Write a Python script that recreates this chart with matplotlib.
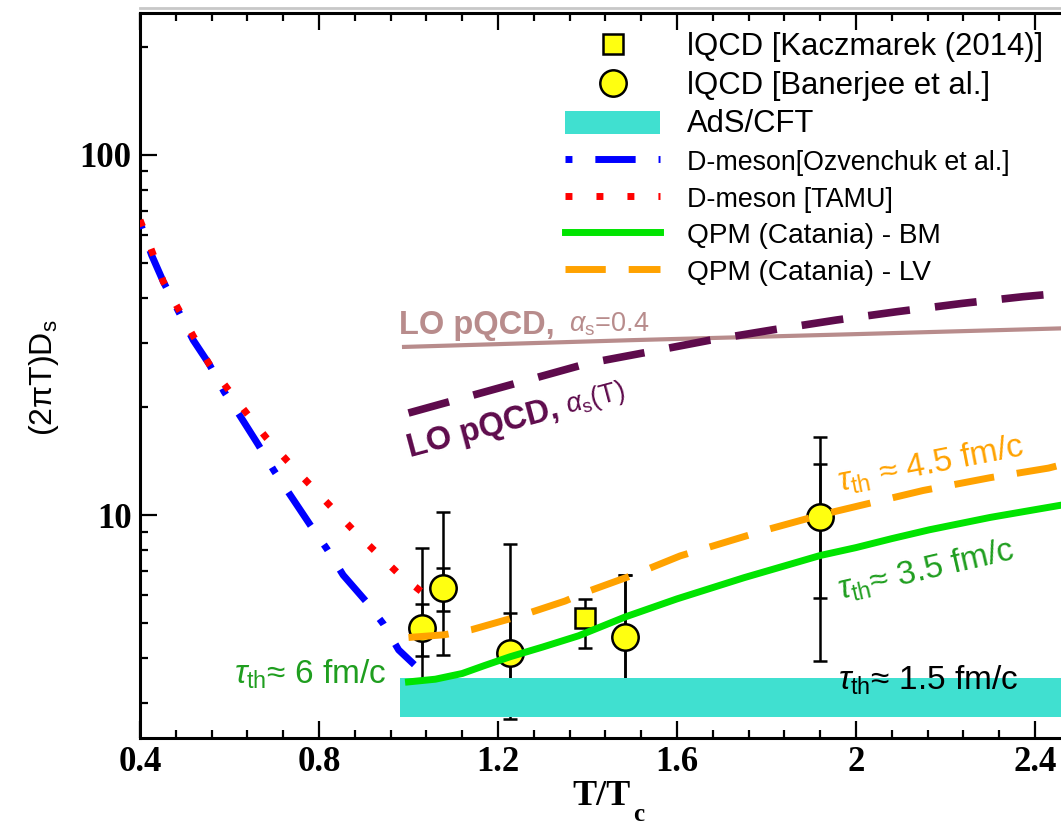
import matplotlib
matplotlib.use("Agg")
import matplotlib.pyplot as plt
import matplotlib.transforms as mtransforms
from matplotlib.font_manager import FontProperties
from matplotlib.ticker import MultipleLocator, FuncFormatter, LogLocator, NullFormatter
from matplotlib.lines import Line2D
import numpy as np

plt.rcParams["font.family"] = ["Liberation Sans", "DejaVu Sans"]
plt.rcParams["mathtext.fontset"] = "custom"
plt.rcParams["mathtext.rm"] = "Liberation Sans"
plt.rcParams["mathtext.it"] = "Liberation Sans:italic"
plt.rcParams["mathtext.bf"] = "Liberation Serif:bold"

# ---- data -------------------------------------------------------------
# lattice QCD, Banerjee et al.: central values, statistical and systematic ranges
ban_x = [1.03, 1.078, 1.227, 1.484, 1.92]
ban_y = [4.87, 6.28, 4.13, 4.59, 9.9]
ban_stat_lo = [4.06, 5.41, 3.2, 3.2, 5.9]
ban_stat_hi = [5.66, 7.13, 5.33, 6.81, 13.87]
ban_sys_lo = [3.0, 4.09, 2.72, 3.0, 3.94]
ban_sys_hi = [8.1, 10.17, 8.3, 6.81, 16.5]

# lattice QCD, Kaczmarek (2014)
kac_x = [1.394]
kac_y = [5.17]
kac_lo = [4.26]
kac_hi = [5.83]

# AdS/CFT band
ads_x = [0.98, 2.6]
ads_lo = [2.75, 2.75]
ads_hi = [3.53, 3.53]

# D-meson, Ozvenchuk et al.
ozv_x = [0.40, 0.426, 0.452, 0.519, 0.555, 0.588, 0.623, 0.664, 0.699, 0.735,
         0.78, 0.818, 0.854, 0.906, 0.944, 0.978, 1.013]
ozv_y = [65.0, 52.7, 44.5, 30.6, 26.2, 22.0, 18.9, 15.7, 13.3, 11.4,
         9.4, 8.04, 6.81, 5.74, 4.98, 4.22, 3.84]

# D-meson, TAMU
tamu_x = [0.40, 0.428, 0.452, 0.486, 0.519, 0.555, 0.596, 0.638, 0.682, 0.730,
          0.778, 0.825, 0.874, 0.925, 0.974, 1.03]
tamu_y = [66.0, 53.5, 44.5, 37.3, 31.4, 26.2, 22.4, 19.2, 16.4, 14.1,
          12.2, 10.6, 9.15, 7.94, 6.94, 6.11]

# QPM (Catania), Boltzmann
bm_x = [1.0, 1.06, 1.12, 1.17, 1.227, 1.3, 1.38, 1.484, 1.6, 1.75, 1.92, 2.0,
        2.08, 2.164, 2.3, 2.4, 2.46]
bm_y = [3.44, 3.5, 3.63, 3.82, 4.04, 4.3, 4.62, 5.21, 5.85, 6.7, 7.72, 8.12,
        8.6, 9.1, 9.85, 10.35, 10.66]

# QPM (Catania), Langevin
lv_x = [1.0, 1.08, 1.14, 1.25, 1.35, 1.4, 1.5, 1.607, 1.8, 1.92, 2.15, 2.3, 2.43, 2.46]
lv_y = [4.57, 4.65, 4.8, 5.25, 5.77, 6.13, 6.8, 7.7, 9.1, 10.0, 11.7, 12.7, 13.5, 13.8]

# LO pQCD with running and fixed coupling
pqcd_run_x = [1.0, 1.131, 1.266, 1.402, 1.538, 1.674, 1.815, 1.956, 2.091, 2.237, 2.373, 2.46]
pqcd_run_y = [19.2, 21.3, 23.7, 26.4, 28.4, 30.6, 32.7, 34.8, 36.7, 38.7, 40.4, 41.3]
pqcd_fix_x = [0.99, 1.5, 2.0, 2.5]
pqcd_fix_y = [29.3, 30.6, 31.8, 33.1]

# ---- styles -----------------------------------------------------------
YELLOW = "#ffff10"
TURQ = "#40e0d0"
GREEN = "#00e400"
GREEN_TXT = "#1f9e1f"
ORANGE = "#ffa200"
PURPLE = "#5e0b4c"
ROSY = "#b88c8c"

W, H = 1061, 824
fig = plt.figure(figsize=(W / 100, H / 100), dpi=100)
ax = fig.add_axes([140 / W, 1 - 738 / H, (W - 140) / W, (738 - 13) / H])
PX = mtransforms.IdentityTransform()


def put(x, y, s, **kw):
    """Place text at an output-pixel position (origin top-left)."""
    return fig.text(x, H - y, s, transform=PX, **kw)


ax.set_yscale("log")
ax.set_xlim(0.4, 2.458)
ax.set_ylim(2.403, 247.9)

# error bars (systematic, then statistical)
eb = dict(fmt="none", ecolor="black", elinewidth=1.8, capsize=4.8, capthick=1.8, zorder=2)
by = np.array(ban_y)
ax.errorbar(ban_x, ban_y, yerr=[by - np.array(ban_sys_lo), np.array(ban_sys_hi) - by], **eb)
ax.errorbar(ban_x, ban_y, yerr=[by - np.array(ban_stat_lo), np.array(ban_stat_hi) - by], **eb)
ky = np.array(kac_y)
ax.errorbar(kac_x, kac_y, yerr=[ky - np.array(kac_lo), np.array(kac_hi) - ky], **eb)

h_kac, = ax.plot(kac_x, kac_y, ls="none", marker="s", ms=14, mfc=YELLOW, mec="black",
                 mew=1.8, zorder=3, label="lQCD [Kaczmarek (2014)]")
h_ban, = ax.plot(ban_x, ban_y, ls="none", marker="o", ms=19, mfc=YELLOW, mec="black",
                 mew=1.8, zorder=3, label="lQCD [Banerjee et al.]")

h_ads = ax.fill_between(ads_x, ads_lo, ads_hi, color=TURQ, lw=0, zorder=4, label="AdS/CFT")

h_ozv, = ax.plot(ozv_x, ozv_y, color="#0000ff", lw=5, ls=(9.1, (5.8, 3.3, 1.0, 3.3)),
                 zorder=5, label="D-meson[Ozvenchuk et al.]")
h_tamu, = ax.plot(tamu_x, tamu_y, color="#ff0000", lw=5, ls=(0, (1.0, 3.46)),
                  zorder=6, label="D-meson [TAMU]")
h_bm, = ax.plot(bm_x, bm_y, color=GREEN, lw=5, zorder=6, label="QPM (Catania) - BM")
h_lv, = ax.plot(lv_x, lv_y, color=ORANGE, lw=5, ls=(0, (5.8, 3.3)), zorder=6,
                label="QPM (Catania) - LV")
ax.plot(pqcd_fix_x, pqcd_fix_y, color=ROSY, lw=3, zorder=5)
ax.plot(pqcd_run_x, pqcd_run_y, color=PURPLE, lw=5.5, ls=(0, (5.5, 3.3)), zorder=6)

# ---- axes styling -----------------------------------------------------
ax.xaxis.set_major_locator(MultipleLocator(0.4))
ax.xaxis.set_minor_locator(MultipleLocator(0.08))
ax.xaxis.set_major_formatter(FuncFormatter(lambda v, p: f"{v:g}"))
ax.yaxis.set_major_locator(LogLocator(base=10))
ax.yaxis.set_minor_locator(LogLocator(base=10, subs=np.arange(2, 10)))
ax.yaxis.set_major_formatter(FuncFormatter(lambda v, p: f"{v:g}"))
ax.yaxis.set_minor_formatter(NullFormatter())
ax.tick_params(which="both", direction="in", top=True, right=False, width=1.6, colors="black")
ax.tick_params(which="major", length=12.5, pad=6, labelsize=25)
ax.tick_params(which="minor", length=6)
for side in ("left", "bottom", "top"):
    ax.spines[side].set_linewidth(2.2)
ax.spines["right"].set_visible(False)

fp_tick = FontProperties(family="Liberation Serif", weight="bold", size=25)
for t in ax.xaxis.get_major_ticks() + ax.yaxis.get_major_ticks():
    t.label1.set_fontproperties(fp_tick)

# axis titles
put(572, 805, "T/T", fontfamily="Liberation Serif", fontweight="bold", fontsize=26,
    ha="left", va="baseline")
put(633, 821, "c", fontfamily="Liberation Serif", fontweight="bold", fontsize=18,
    ha="left", va="baseline")
put(44, 378, r"(2πT)D$_{\rm s}$", fontsize=23, rotation=90, ha="center", va="center")

# legend
leg = ax.legend(handles=[h_kac, h_ban, h_ads, h_ozv, h_tamu, h_bm, h_lv],
                loc="upper left", bbox_to_anchor=(565 / W, 1 - 32 / H),
                bbox_transform=fig.transFigure, frameon=False, fontsize=21,
                handlelength=3.26, handleheight=0.86, handletextpad=0.92,
                labelspacing=0.3, borderpad=0, borderaxespad=0)
for txt, size in zip(leg.get_texts(), [22.4, 22.4, 22.3, 19.3, 19.4, 20.2, 20.2]):
    txt.set_fontsize(size)
leg.set_zorder(10)

# annotations
put(399, 334, "LO pQCD,", color=ROSY, fontweight="bold", fontsize=23.5, ha="left",
    va="baseline")
put(569, 332, r"$\alpha_{\rm s}$=0.4", color=ROSY, fontsize=19.5, ha="left", va="baseline")
put(410, 457, "LO pQCD,", color=PURPLE, fontweight="bold", fontsize=23.5, ha="left",
    va="baseline", rotation=15, rotation_mode="anchor")
put(568, 413, r"$\alpha_{\rm s}$(T)", color=PURPLE, fontsize=19.5, ha="left",
    va="baseline", rotation=15, rotation_mode="anchor")
put(840, 492, r"$\tau_{\rm th}$ ≈ 4.5 fm/c", color=ORANGE, fontsize=24, ha="left",
    va="baseline", rotation=11, rotation_mode="anchor")
put(840, 600, r"$\tau_{\rm th}$≈ 3.5 fm/c", color=GREEN_TXT, fontsize=24, ha="left",
    va="baseline", rotation=13, rotation_mode="anchor")
put(234, 684, r"$\tau_{\rm th}$≈ 6 fm/c", color=GREEN_TXT, fontsize=24, ha="left",
    va="baseline")
put(838, 690, r"$\tau_{\rm th}$≈ 1.5 fm/c", color="black", fontsize=24, ha="left",
    va="baseline", zorder=10)

# thin grey rule above the frame
fig.add_artist(Line2D([140 / W, 1.0], [1 - 8 / H, 1 - 8 / H], transform=fig.transFigure,
                      color="#c8c8c8", lw=2))

fig.savefig("out.png", dpi=100)
